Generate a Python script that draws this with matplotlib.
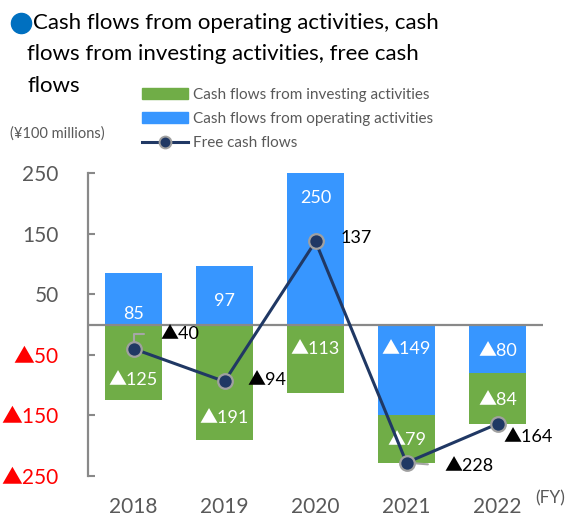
import numpy as np
import matplotlib.pyplot as plt
from matplotlib.lines import Line2D

plt.rcParams['font.family'] = ['Lato', 'Noto Sans CJK JP', 'DejaVu Sans']

years = ['2018', '2019', '2020', '2021', '2022']
operating = np.array([85, 97, 250, -149, -80])
investing = np.array([-125, -191, -113, -79, -84])
free_cf = np.array([-40, -94, 137, -228, -164])
ytick_vals = [250, 150, 50, -50, -150, -250]

# where excel put the white labels inside the bars (data units)
op_label_y = [18, 38, 209, -40, -43]
inv_label_y = [-92, -155, -41, -191, -124]
# free cash flow label offsets in pixels from the marker
fcf_offsets = [(27, 15), (23, 1), (25, 3), (38, -3), (6, -13)]
fcf_leader = [True, True, True, True, False]

def fmt(v):
    return f"▲{abs(v)}" if v < 0 else f"{v}"

blue = '#3796FF'
green = '#70AD47'
navy = '#203864'
gray_txt = '#595959'
axis_gray = '#898989'

fig = plt.figure(figsize=(5.79, 5.17), dpi=100)
ax = fig.add_axes([88/579, 1 - 476/517, 455/579, 303/517])

x = np.arange(len(years))
w = 0.62
ax.bar(x, operating, w, color=blue, zorder=2)
inv_bottom = np.minimum(operating, 0)
ax.bar(x, investing, w, bottom=inv_bottom, color=green, zorder=2)
ax.axhline(0, color=axis_gray, lw=1.6, zorder=3)

ax.plot(x, free_cf, color=navy, lw=2.2, marker='o', ms=10.5,
        mfc=navy, mec='#A0A0A0', mew=1.6, zorder=5)

for i in range(len(years)):
    ax.text(x[i], op_label_y[i], fmt(operating[i]), color='white',
            ha='center', va='center', fontsize=13, zorder=4)
    ax.text(x[i], inv_label_y[i], fmt(investing[i]), color='white',
            ha='center', va='center', fontsize=13, zorder=4)
    dx, dy = fcf_offsets[i]
    props = None
    if fcf_leader[i]:
        cs = 'angle,angleA=180,angleB=90,rad=0' if dy > 8 else 'arc3'
        props = dict(arrowstyle='-', color='#A6A6A6', lw=1.5,
                     shrinkA=10, shrinkB=0, relpos=(0, 0.5),
                     connectionstyle=cs)
    ax.annotate(fmt(free_cf[i]), xy=(x[i], free_cf[i]), xytext=(dx, dy),
                textcoords='offset pixels', ha='left', va='center',
                fontsize=13, color='black', arrowprops=props, zorder=4)

ax.set_xlim(-0.5, 4.5)
ax.set_ylim(-250, 250)
ax.set_yticks(ytick_vals)
ax.set_yticklabels([fmt(v) for v in ytick_vals], fontsize=15)
for lab, v in zip(ax.get_yticklabels(), ytick_vals):
    lab.set_color('red' if v < 0 else gray_txt)
ax.set_xticks(x)
ax.set_xticklabels(years, fontsize=15, color=gray_txt)
ax.tick_params(axis='x', length=0, pad=15)
ax.tick_params(axis='y', direction='in', length=5, width=1.5,
               color=axis_gray, pad=21)
for s in ['top', 'right', 'bottom']:
    ax.spines[s].set_visible(False)
ax.spines['left'].set_color(axis_gray)
ax.spines['left'].set_linewidth(1.6)

# title with blue bullet
fig.add_artist(Line2D([21/579], [1 - 23/517], marker='o', ms=14.5,
                      color='#0070C0', transform=fig.transFigure))
fig.text(33/579, 1 - 23/517, 'Cash flows from operating activities, cash',
         fontsize=16, va='center', ha='left', color='black')
fig.text(27/579, 1 - 54/517, 'flows from investing activities, free cash',
         fontsize=16, va='center', ha='left', color='black')
fig.text(27/579, 1 - 86/517, 'flows',
         fontsize=16, va='center', ha='left', color='black')

fig.text(10/579, 1 - 134/517, '(¥100 millions)', fontsize=10.5,
         va='center', ha='left', color=gray_txt)
fig.text(535/579, 1 - 498/517, '(FY)', fontsize=12.5,
         va='center', ha='left', color=gray_txt)

handles = [
    plt.Rectangle((0, 0), 1, 1, color=green),
    plt.Rectangle((0, 0), 1, 1, color=blue),
    Line2D([], [], color=navy, lw=2.2, marker='o', ms=8.5, mfc=navy,
           mec='#A0A0A0', mew=1.4),
]
labels = ['Cash flows from investing activities',
          'Cash flows from operating activities',
          'Free cash flows']
leg = fig.legend(handles, labels, loc='upper left',
                 bbox_to_anchor=(142/579, 1 - 88/517), frameon=False,
                 fontsize=11, borderpad=0, borderaxespad=0,
                 handlelength=3.0, handletextpad=0.35, labelspacing=0.66)
for t in leg.get_texts():
    t.set_color(gray_txt)

fig.savefig('out.png', dpi=100)
